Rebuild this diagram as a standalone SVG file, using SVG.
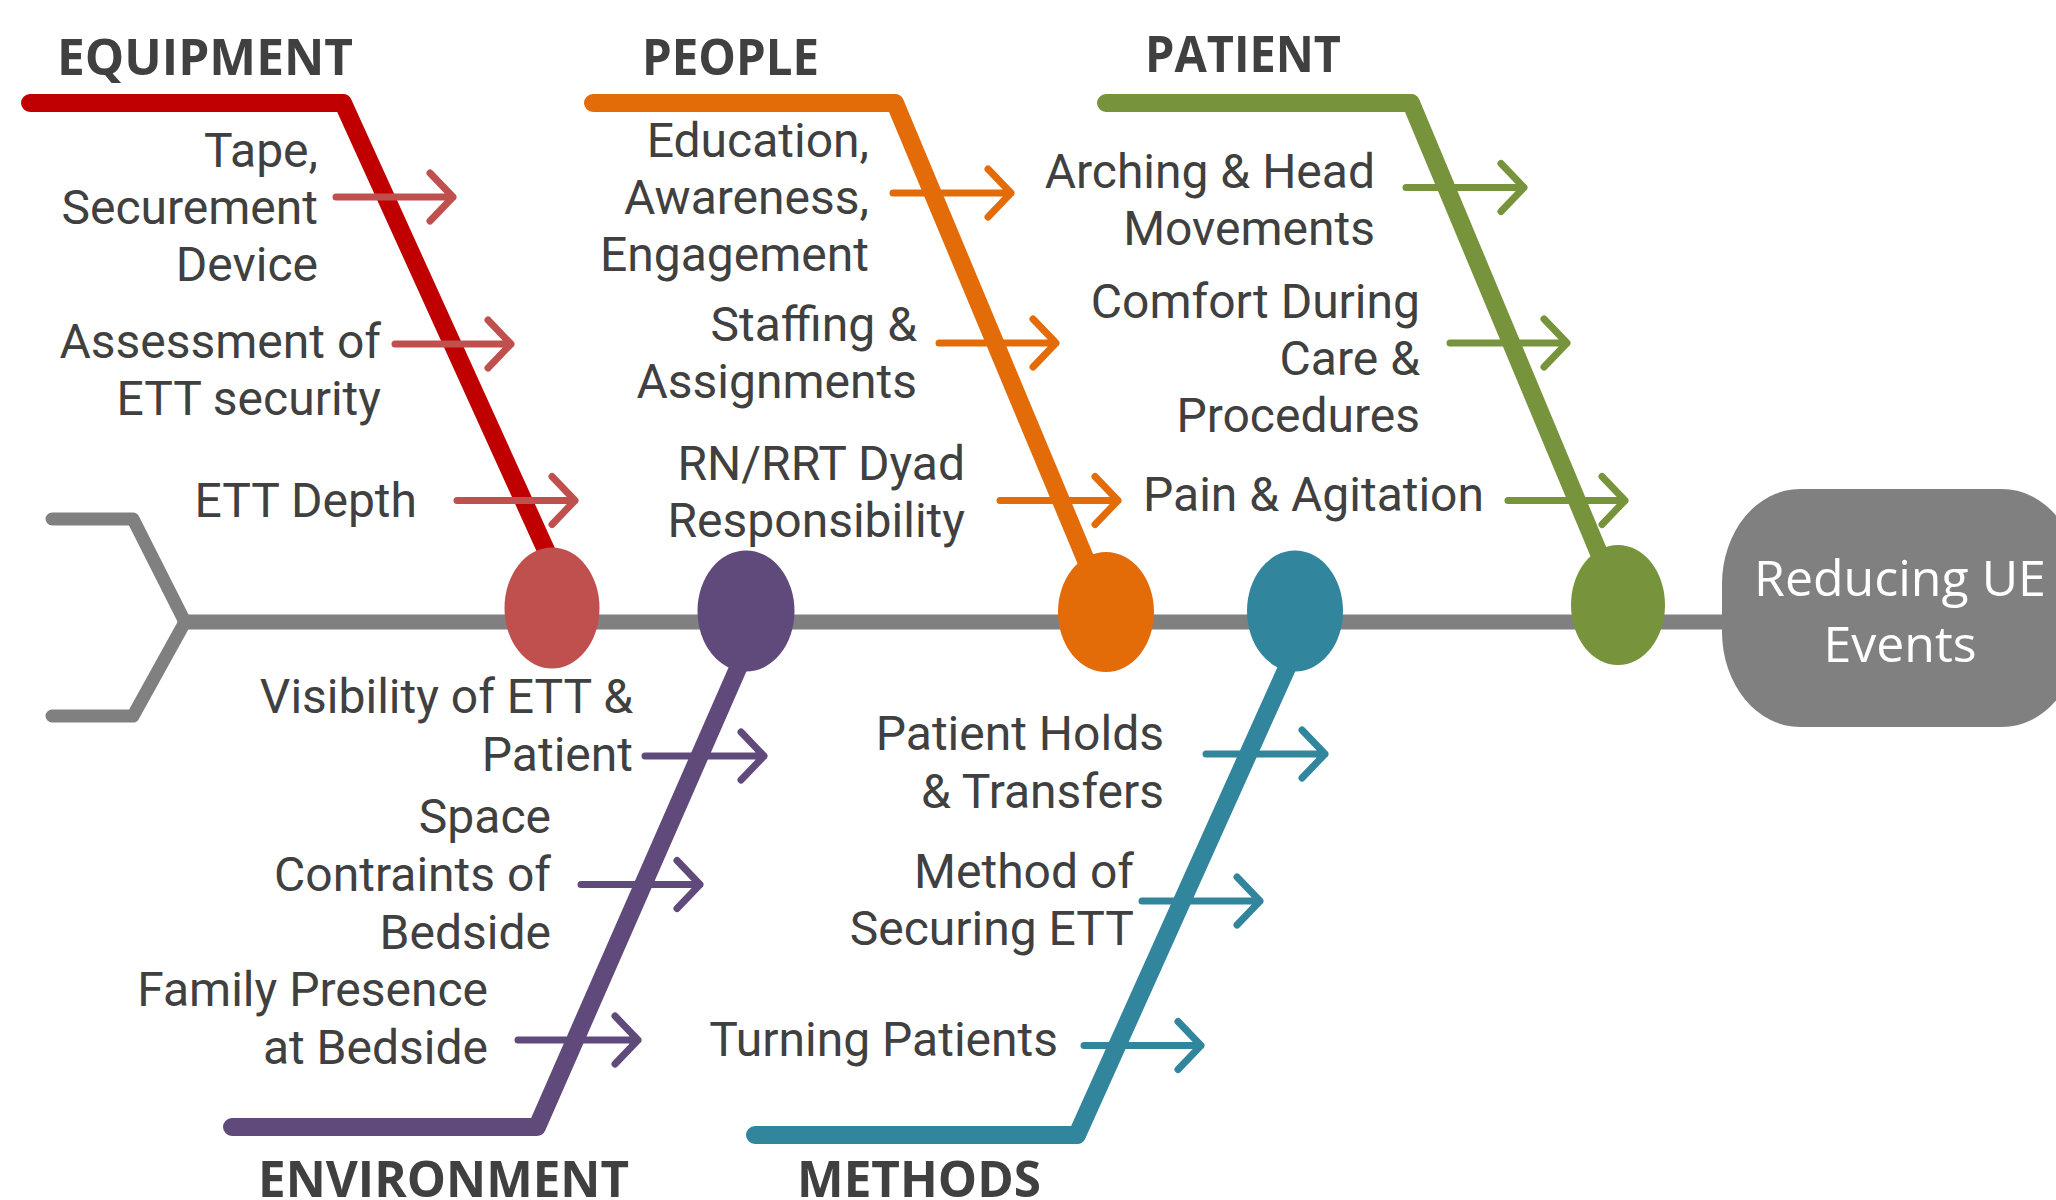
<svg xmlns="http://www.w3.org/2000/svg" width="2056" height="1200" viewBox="0 0 2056 1200">
  <style>
    .bone { fill: none; stroke-width: 18; stroke-linecap: round; stroke-linejoin: round; }
    .arrow { fill: none; stroke-width: 7; stroke-linecap: round; stroke-linejoin: round; }
    .spine { fill: none; stroke: #808080; stroke-linecap: round; stroke-linejoin: round; }
    .lbl { font-family: Roboto, "Liberation Sans", sans-serif; font-size: 48px; fill: #404040; text-anchor: end; }
    .hdr { font-family: "Open Sans", "Liberation Sans", sans-serif; font-weight: 700; font-size: 51px; fill: #404040; }
    .effect-text { font-family: "Open Sans", "Liberation Sans", sans-serif; font-size: 50px; fill: #ffffff; text-anchor: middle; }
    .red { stroke: #C00000; }
    .red-a { stroke: #C0504D; }
    .orange { stroke: #E36C09; }
    .green { stroke: #77933C; }
    .purple { stroke: #604A7B; }
    .teal { stroke: #31859C; }
  </style>
  <rect width="2056" height="1200" fill="#ffffff"/>

  <!-- spine, bones and cause arrows -->
  <g id="connectors">
    <path class="spine" stroke-width="13" d="M52 519 H133 L185 622 L133 716 H52"/>
    <path class="spine" stroke-width="15" d="M185 622 H1730"/>

    <path class="bone red" d="M30 103 H343 L555 570"/>
    <path class="bone orange" d="M593 103 H895 L1090 570"/>
    <path class="bone green" d="M1106 103 H1411 L1606 570"/>
    <path class="bone purple" d="M232 1127 H537 L746 650"/>
    <path class="bone teal" d="M755 1135 H1077 L1295 650"/>

    <path class="arrow red-a" d="M336 197 H453 m-23 -24 l23 24 l-23 24"/>
    <path class="arrow red-a" d="M395 344 H511 m-23 -24 l23 24 l-23 24"/>
    <path class="arrow red-a" d="M457 500.5 H575 m-23 -24 l23 24 l-23 24"/>

    <path class="arrow orange" d="M893 193 H1011 m-23 -24 l23 24 l-23 24"/>
    <path class="arrow orange" d="M939 343 H1056 m-23 -24 l23 24 l-23 24"/>
    <path class="arrow orange" d="M1000 500.5 H1118 m-23 -24 l23 24 l-23 24"/>

    <path class="arrow green" d="M1406 187.5 H1524 m-23 -24 l23 24 l-23 24"/>
    <path class="arrow green" d="M1450 343 H1567 m-23 -24 l23 24 l-23 24"/>
    <path class="arrow green" d="M1508 500.5 H1625 m-23 -24 l23 24 l-23 24"/>

    <path class="arrow purple" d="M645 756 H764 m-23 -24 l23 24 l-23 24"/>
    <path class="arrow purple" d="M581 884.5 H700 m-23 -24 l23 24 l-23 24"/>
    <path class="arrow purple" d="M518 1040 H638 m-23 -24 l23 24 l-23 24"/>

    <path class="arrow teal" d="M1206 754 H1325 m-23 -24 l23 24 l-23 24"/>
    <path class="arrow teal" d="M1142 901 H1260 m-23 -24 l23 24 l-23 24"/>
    <path class="arrow teal" d="M1084 1045.5 H1201 m-23 -24 l23 24 l-23 24"/>
  </g>

  <g id="equipment">
    <text class="hdr" x="57" y="75" textLength="296" lengthAdjust="spacingAndGlyphs">EQUIPMENT</text>
    <text class="lbl" x="318" y="166.5">Tape,</text>
    <text class="lbl" x="318" y="224">Securement</text>
    <text class="lbl" x="318" y="281">Device</text>
    <text class="lbl" x="381" y="358">Assessment of</text>
    <text class="lbl" x="381" y="415">ETT security</text>
    <text class="lbl" x="417" y="517">ETT Depth</text>
    <ellipse cx="552" cy="608" rx="47.5" ry="60.5" fill="#C0504D"/>
  </g>

  <g id="people">
    <text class="hdr" x="642" y="75" textLength="177" lengthAdjust="spacingAndGlyphs">PEOPLE</text>
    <text class="lbl" x="869" y="157">Education,</text>
    <text class="lbl" x="869" y="214">Awareness,</text>
    <text class="lbl" x="869" y="271">Engagement</text>
    <text class="lbl" x="917" y="341">Staffing &amp;</text>
    <text class="lbl" x="917" y="398">Assignments</text>
    <text class="lbl" x="965" y="480">RN/RRT Dyad</text>
    <text class="lbl" x="965" y="537">Responsibility</text>
    <ellipse cx="1106" cy="612" rx="48" ry="60" fill="#E36C09"/>
  </g>

  <g id="patient">
    <text class="hdr" x="1145" y="72" textLength="196" lengthAdjust="spacingAndGlyphs">PATIENT</text>
    <text class="lbl" x="1375" y="188">Arching &amp; Head</text>
    <text class="lbl" x="1375" y="245">Movements</text>
    <text class="lbl" x="1420" y="318">Comfort During</text>
    <text class="lbl" x="1420" y="375">Care &amp;</text>
    <text class="lbl" x="1420" y="432">Procedures</text>
    <text class="lbl" x="1484" y="511">Pain &amp; Agitation</text>
    <ellipse cx="1618" cy="605" rx="47" ry="60" fill="#77933C"/>
  </g>

  <g id="environment">
    <text class="hdr" x="258" y="1197" textLength="371" lengthAdjust="spacingAndGlyphs">ENVIRONMENT</text>
    <text class="lbl" x="633" y="713">Visibility of ETT &amp;</text>
    <text class="lbl" x="633" y="771">Patient</text>
    <text class="lbl" x="551" y="833">Space</text>
    <text class="lbl" x="551" y="891">Contraints of</text>
    <text class="lbl" x="551" y="949">Bedside</text>
    <text class="lbl" x="488" y="1006">Family Presence</text>
    <text class="lbl" x="488" y="1064">at Bedside</text>
    <ellipse cx="746" cy="611" rx="48.5" ry="60.5" fill="#604A7B"/>
  </g>

  <g id="methods">
    <text class="hdr" x="797" y="1197" textLength="244" lengthAdjust="spacingAndGlyphs">METHODS</text>
    <text class="lbl" x="1164" y="750">Patient Holds</text>
    <text class="lbl" x="1164" y="808">&amp; Transfers</text>
    <text class="lbl" x="1134" y="888">Method of</text>
    <text class="lbl" x="1134" y="945">Securing ETT</text>
    <text class="lbl" x="1058" y="1056">Turning Patients</text>
    <ellipse cx="1295" cy="611" rx="48" ry="60.5" fill="#31859C"/>
  </g>

  <g id="effect">
    <rect x="1722" y="489" width="358" height="238" rx="78" ry="95" fill="#808080"/>
    <text class="effect-text" x="1900" y="596">Reducing UE</text>
    <text class="effect-text" x="1900" y="662">Events</text>
  </g>
</svg>
